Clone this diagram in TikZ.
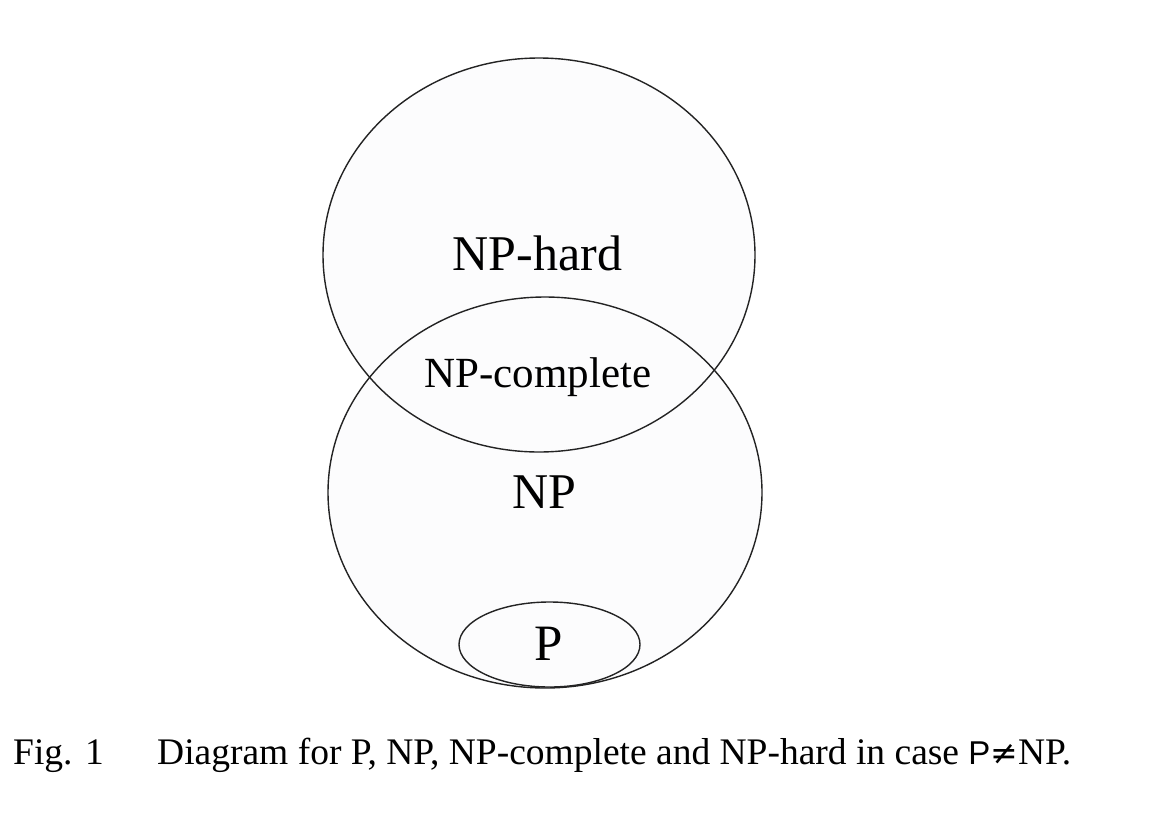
\documentclass[tikz,border=0pt]{standalone}
\usepackage{fontspec}
\setmainfont{Liberation Serif}
\newfontfamily\lsans{Liberation Sans}
\newfontfamily\dsans{DejaVu Sans}
\begin{document}
\begin{tikzpicture}[x=1pt,y=-1pt,
  setline/.style={draw={rgb,255:red,35;green,35;blue,35}, line width=1.4pt},
  setfill/.style={fill={rgb,255:red,252;green,252;blue,253}},
  lbl/.style={inner sep=0pt, anchor=base, text=black}]
\useasboundingbox (0,0) rectangle (1154,814);
\fill[white] (0,0) rectangle (1154,814);
% fills
\path[setfill] (539,255) ellipse [x radius=216, y radius=197];
\path[setfill] (545,492.5) ellipse [x radius=217, y radius=195.5];
% outlines
\draw[setline] (539,255) ellipse [x radius=216, y radius=197];
\draw[setline] (545,492.5) ellipse [x radius=217, y radius=195.5];
\draw[setline, setfill] (549.5,644.5) ellipse [x radius=90.5, y radius=42.5];
% labels
\node[lbl] (nphard) at (537.5,270) {\fontsize{50}{60}\selectfont NP-hard};
\node[lbl] (npc) at (538,387) {\fontsize{43}{52}\selectfont NP-complete};
\node[lbl] (np) at (544,508) {\fontsize{50}{60}\selectfont NP};
\node[lbl] (p) at (549,660) {\fontsize{51}{60}\selectfont P};
% caption
\node[lbl, anchor=base west] (fig) at (13,764) {\fontsize{37.5}{44}\selectfont Fig. 1};
\node[lbl, anchor=base west] (cap) at (157,764) {\fontsize{37.5}{44}\selectfont Diagram for P, NP, NP-complete and NP-hard in case {\lsans\fontsize{33}{44}\selectfont P}{\dsans\fontsize{33}{44}\selectfont ≠}NP.};
\end{tikzpicture}
\end{document}
